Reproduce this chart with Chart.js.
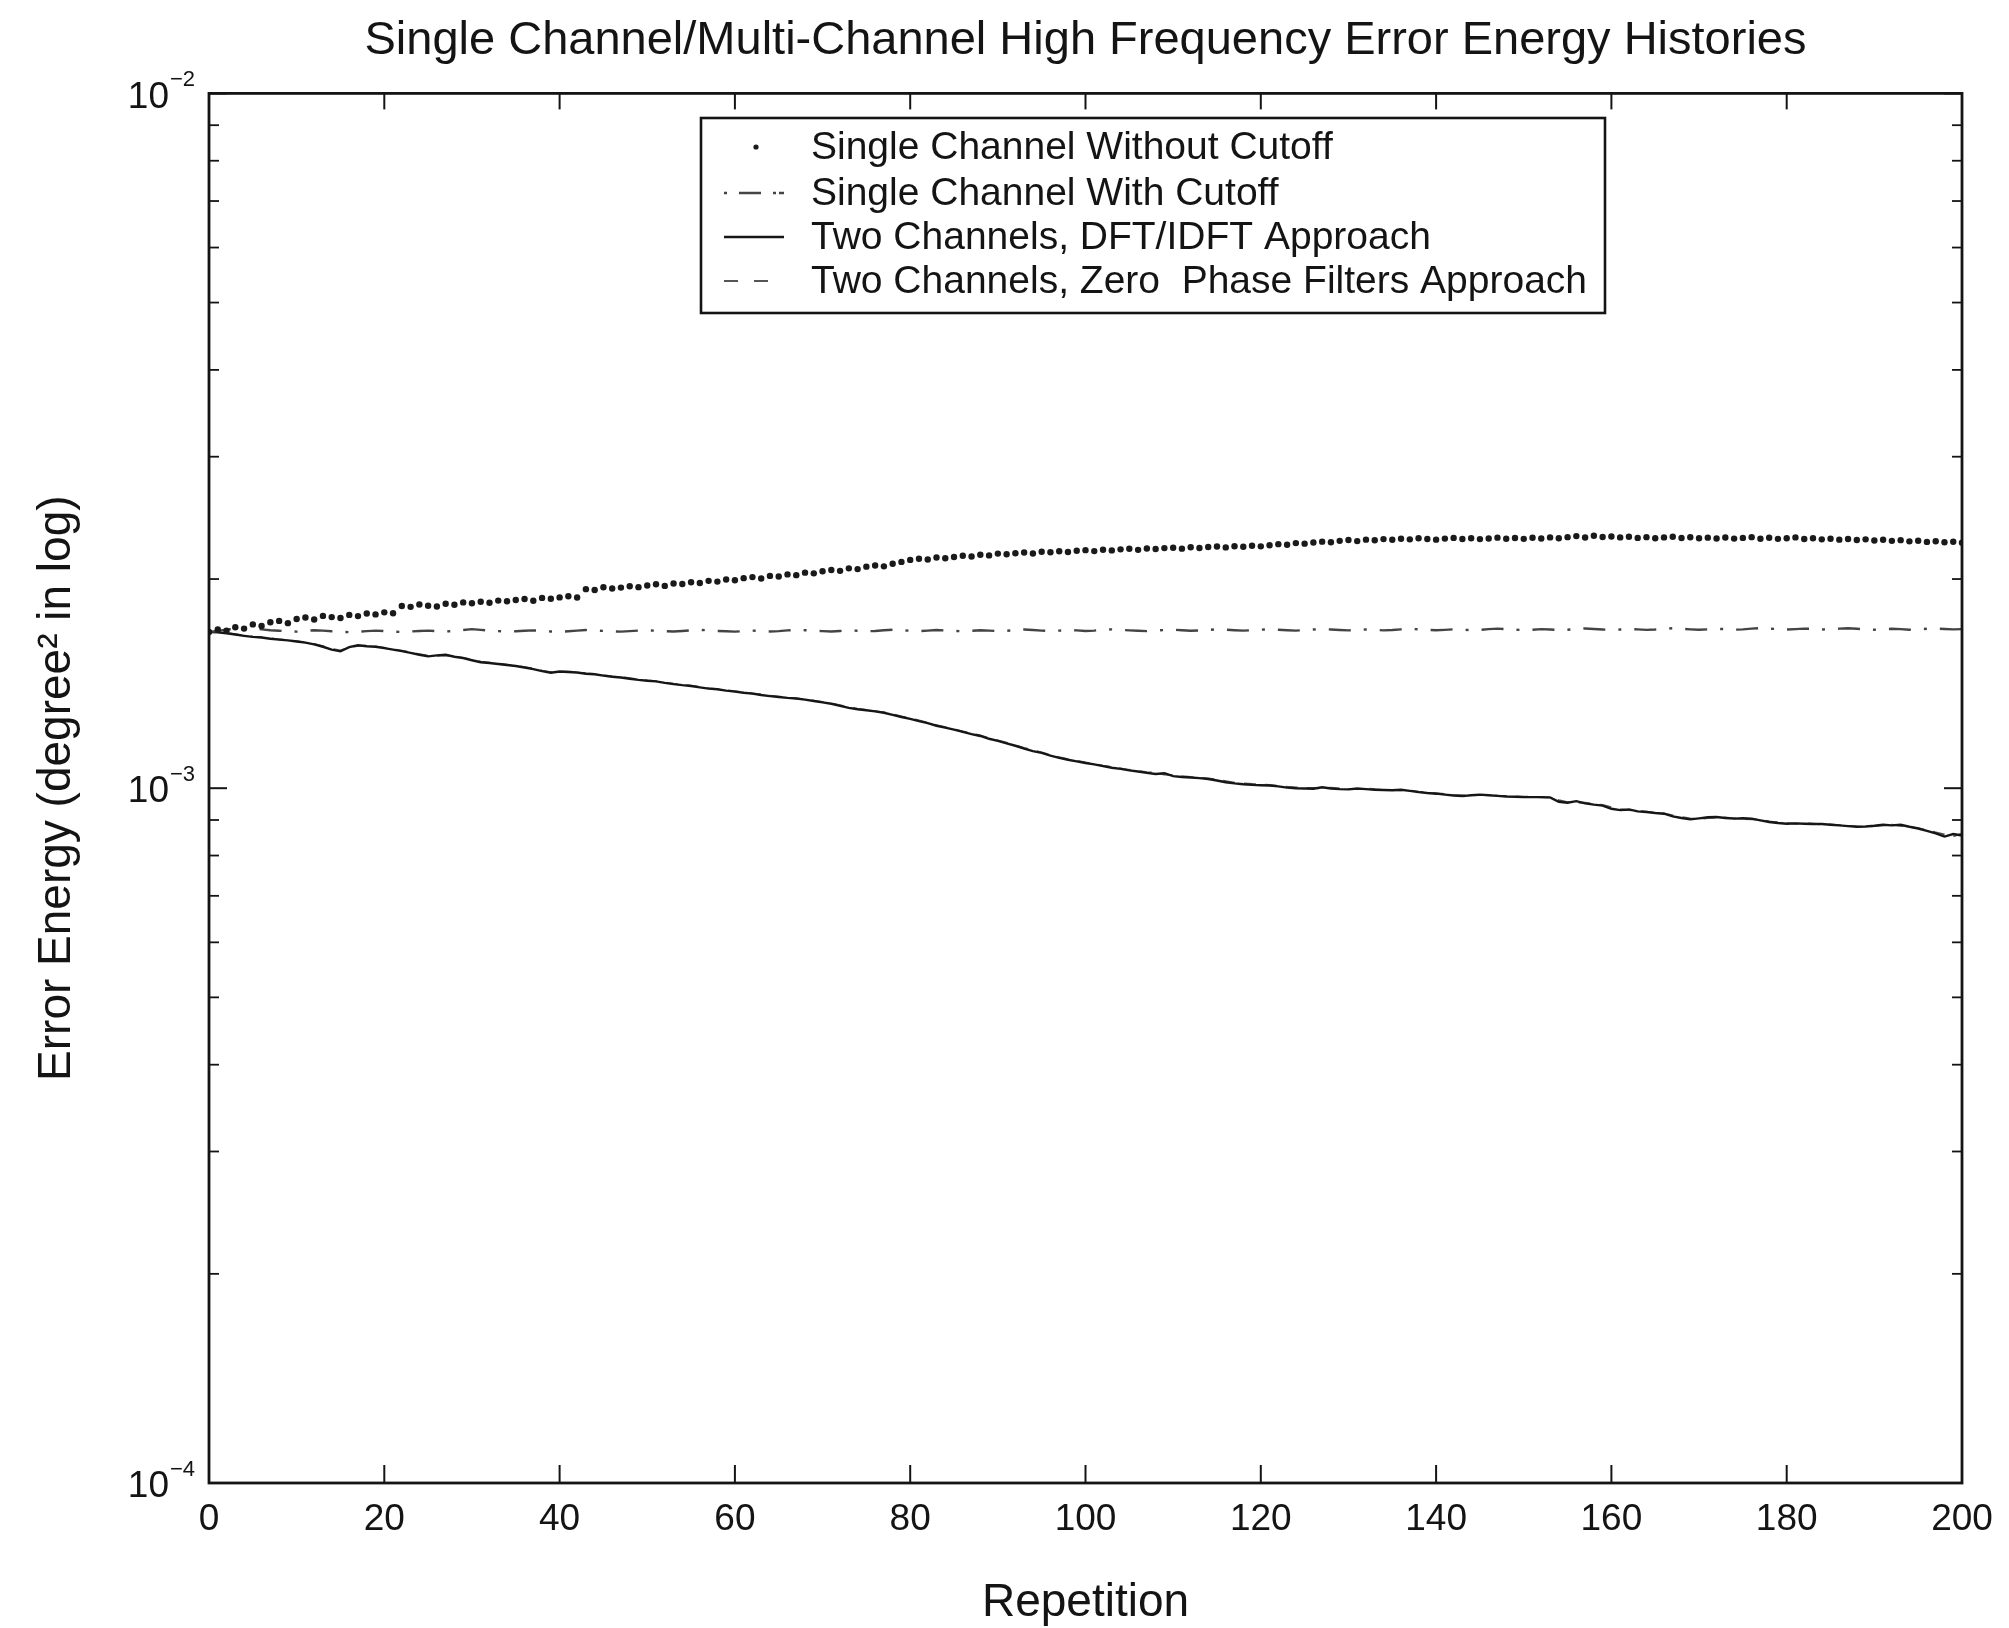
<!DOCTYPE html>
<html>
<head>
<meta charset="utf-8">
<title>Single Channel/Multi-Channel High Frequency Error Energy Histories</title>
<script src="https://cdn.jsdelivr.net/npm/chart.js"></script>
<style>
  html, body { margin: 0; padding: 0; background: #ffffff; }
  canvas { display: block; }
</style>
</head>
<body>
<canvas id="chart" width="2009" height="1628"></canvas>
<script>
// ---------------- DATA ----------------
const chartTitle = 'Single Channel/Multi-Channel High Frequency Error Energy Histories';
const xAxisTitle = 'Repetition';
const yAxisTitle = 'Error Energy (degree\u00B2 in log)';
const seriesNames = [
  'Single Channel Without Cutoff',
  'Single Channel With Cutoff',
  'Two Channels, DFT/IDFT Approach',
  'Two Channels, Zero  Phase Filters Approach'
];

const repetitions = [
  0,1,2,3,4,5,6,7,8,9,10,11,12,13,14,15,16,17,18,19,
  20,21,22,23,24,25,26,27,28,29,30,31,32,33,34,35,36,37,38,39,
  40,41,42,43,44,45,46,47,48,49,50,51,52,53,54,55,56,57,58,59,
  60,61,62,63,64,65,66,67,68,69,70,71,72,73,74,75,76,77,78,79,
  80,81,82,83,84,85,86,87,88,89,90,91,92,93,94,95,96,97,98,99,
  100,101,102,103,104,105,106,107,108,109,110,111,112,113,114,115,116,117,118,119,
  120,121,122,123,124,125,126,127,128,129,130,131,132,133,134,135,136,137,138,139,
  140,141,142,143,144,145,146,147,148,149,150,151,152,153,154,155,156,157,158,159,
  160,161,162,163,164,165,166,167,168,169,170,171,172,173,174,175,176,177,178,179,
  180,181,182,183,184,185,186,187,188,189,190,191,192,193,194,195,196,197,198,199,
  200
];

// Single Channel Without Cutoff (dots)
const singleWithoutCutoff = [
  1.678e-3,1.692e-3,1.686e-3,1.705e-3,1.697e-3,1.721e-3,1.712e-3,1.733e-3,1.741e-3,1.728e-3,
  1.752e-3,1.761e-3,1.749e-3,1.770e-3,1.763e-3,1.758e-3,1.776e-3,1.769e-3,1.784e-3,1.779e-3,
  1.791e-3,1.786e-3,1.829e-3,1.824e-3,1.838e-3,1.831e-3,1.826e-3,1.843e-3,1.837e-3,1.851e-3,
  1.846e-3,1.855e-3,1.849e-3,1.862e-3,1.858e-3,1.866e-3,1.872e-3,1.861e-3,1.879e-3,1.874e-3,
  1.882e-3,1.889e-3,1.881e-3,1.934e-3,1.929e-3,1.946e-3,1.938e-3,1.944e-3,1.953e-3,1.947e-3,
  1.958e-3,1.966e-3,1.955e-3,1.971e-3,1.967e-3,1.979e-3,1.974e-3,1.988e-3,1.983e-3,1.997e-3,
  1.992e-3,2.006e-3,2.013e-3,2.004e-3,2.021e-3,2.017e-3,2.031e-3,2.026e-3,2.043e-3,2.038e-3,
  2.052e-3,2.061e-3,2.055e-3,2.072e-3,2.067e-3,2.084e-3,2.092e-3,2.086e-3,2.104e-3,2.117e-3,
  2.131e-3,2.139e-3,2.134e-3,2.148e-3,2.143e-3,2.152e-3,2.161e-3,2.155e-3,2.168e-3,2.163e-3,
  2.176e-3,2.171e-3,2.179e-3,2.184e-3,2.177e-3,2.189e-3,2.186e-3,2.193e-3,2.188e-3,2.197e-3,
  2.201e-3,2.194e-3,2.204e-3,2.199e-3,2.207e-3,2.211e-3,2.203e-3,2.213e-3,2.209e-3,2.216e-3,
  2.219e-3,2.212e-3,2.222e-3,2.217e-3,2.224e-3,2.228e-3,2.221e-3,2.230e-3,2.226e-3,2.233e-3,
  2.229e-3,2.237e-3,2.245e-3,2.241e-3,2.253e-3,2.249e-3,2.258e-3,2.264e-3,2.259e-3,2.270e-3,
  2.276e-3,2.268e-3,2.279e-3,2.274e-3,2.283e-3,2.278e-3,2.286e-3,2.281e-3,2.289e-3,2.284e-3,
  2.279e-3,2.287e-3,2.292e-3,2.284e-3,2.290e-3,2.283e-3,2.288e-3,2.294e-3,2.286e-3,2.291e-3,
  2.285e-3,2.293e-3,2.288e-3,2.296e-3,2.290e-3,2.298e-3,2.306e-3,2.295e-3,2.309e-3,2.299e-3,
  2.303e-3,2.296e-3,2.301e-3,2.292e-3,2.298e-3,2.290e-3,2.296e-3,2.301e-3,2.291e-3,2.297e-3,
  2.289e-3,2.294e-3,2.288e-3,2.295e-3,2.287e-3,2.292e-3,2.298e-3,2.286e-3,2.293e-3,2.285e-3,
  2.290e-3,2.296e-3,2.284e-3,2.289e-3,2.281e-3,2.286e-3,2.279e-3,2.284e-3,2.276e-3,2.281e-3,
  2.273e-3,2.278e-3,2.270e-3,2.275e-3,2.266e-3,2.271e-3,2.262e-3,2.267e-3,2.259e-3,2.263e-3,
  2.256e-3
];

// Single Channel With Cutoff (dash-dot)
const singleWithCutoff = [
  1.678e-3,1.684e-3,1.691e-3,1.698e-3,1.703e-3,1.699e-3,1.693e-3,1.688e-3,1.685e-3,1.682e-3,
  1.680e-3,1.684e-3,1.688e-3,1.686e-3,1.682e-3,1.679e-3,1.677e-3,1.680e-3,1.683e-3,1.686e-3,
  1.683e-3,1.680e-3,1.678e-3,1.681e-3,1.684e-3,1.686e-3,1.683e-3,1.681e-3,1.684e-3,1.689e-3,
  1.694e-3,1.690e-3,1.686e-3,1.683e-3,1.680e-3,1.682e-3,1.685e-3,1.687e-3,1.684e-3,1.681e-3,
  1.679e-3,1.682e-3,1.686e-3,1.689e-3,1.687e-3,1.684e-3,1.682e-3,1.680e-3,1.683e-3,1.686e-3,
  1.688e-3,1.685e-3,1.683e-3,1.681e-3,1.684e-3,1.687e-3,1.690e-3,1.687e-3,1.684e-3,1.682e-3,
  1.680e-3,1.683e-3,1.686e-3,1.684e-3,1.681e-3,1.683e-3,1.687e-3,1.690e-3,1.688e-3,1.685e-3,
  1.683e-3,1.681e-3,1.684e-3,1.687e-3,1.685e-3,1.682e-3,1.684e-3,1.688e-3,1.691e-3,1.688e-3,
  1.685e-3,1.683e-3,1.686e-3,1.689e-3,1.687e-3,1.684e-3,1.682e-3,1.685e-3,1.688e-3,1.686e-3,
  1.683e-3,1.685e-3,1.689e-3,1.692e-3,1.689e-3,1.686e-3,1.684e-3,1.686e-3,1.689e-3,1.687e-3,
  1.684e-3,1.686e-3,1.690e-3,1.693e-3,1.690e-3,1.687e-3,1.685e-3,1.683e-3,1.686e-3,1.689e-3,
  1.691e-3,1.688e-3,1.685e-3,1.687e-3,1.690e-3,1.693e-3,1.691e-3,1.688e-3,1.686e-3,1.688e-3,
  1.691e-3,1.694e-3,1.691e-3,1.688e-3,1.686e-3,1.689e-3,1.692e-3,1.695e-3,1.692e-3,1.689e-3,
  1.687e-3,1.689e-3,1.692e-3,1.690e-3,1.687e-3,1.689e-3,1.693e-3,1.696e-3,1.693e-3,1.690e-3,
  1.688e-3,1.690e-3,1.693e-3,1.691e-3,1.688e-3,1.690e-3,1.694e-3,1.697e-3,1.694e-3,1.691e-3,
  1.689e-3,1.691e-3,1.694e-3,1.692e-3,1.689e-3,1.691e-3,1.695e-3,1.698e-3,1.695e-3,1.692e-3,
  1.690e-3,1.692e-3,1.695e-3,1.693e-3,1.690e-3,1.692e-3,1.696e-3,1.699e-3,1.696e-3,1.693e-3,
  1.691e-3,1.693e-3,1.696e-3,1.694e-3,1.691e-3,1.693e-3,1.697e-3,1.700e-3,1.697e-3,1.694e-3,
  1.692e-3,1.694e-3,1.697e-3,1.695e-3,1.692e-3,1.694e-3,1.697e-3,1.699e-3,1.696e-3,1.693e-3,
  1.691e-3,1.693e-3,1.696e-3,1.694e-3,1.691e-3,1.693e-3,1.696e-3,1.698e-3,1.695e-3,1.693e-3,
  1.694e-3
];

// Two Channels, DFT/IDFT Approach (solid)
const twoChannelsDft = [
  1.678e-3,1.676e-3,1.671e-3,1.664e-3,1.657e-3,1.651e-3,1.648e-3,1.641e-3,1.636e-3,1.632e-3,
  1.626e-3,1.620e-3,1.611e-3,1.598e-3,1.583e-3,1.574e-3,1.596e-3,1.606e-3,1.601e-3,1.598e-3,
  1.591e-3,1.583e-3,1.575e-3,1.566e-3,1.556e-3,1.548e-3,1.553e-3,1.556e-3,1.546e-3,1.539e-3,
  1.528e-3,1.518e-3,1.514e-3,1.509e-3,1.504e-3,1.499e-3,1.492e-3,1.484e-3,1.474e-3,1.466e-3,
  1.472e-3,1.470e-3,1.467e-3,1.461e-3,1.459e-3,1.452e-3,1.447e-3,1.443e-3,1.437e-3,1.432e-3,
  1.428e-3,1.425e-3,1.418e-3,1.412e-3,1.407e-3,1.403e-3,1.397e-3,1.391e-3,1.388e-3,1.382e-3,
  1.377e-3,1.372e-3,1.368e-3,1.362e-3,1.357e-3,1.353e-3,1.349e-3,1.346e-3,1.341e-3,1.335e-3,
  1.329e-3,1.323e-3,1.314e-3,1.305e-3,1.299e-3,1.295e-3,1.290e-3,1.284e-3,1.275e-3,1.266e-3,
  1.258e-3,1.249e-3,1.241e-3,1.230e-3,1.222e-3,1.214e-3,1.205e-3,1.196e-3,1.189e-3,1.178e-3,
  1.170e-3,1.160e-3,1.151e-3,1.140e-3,1.131e-3,1.124e-3,1.114e-3,1.106e-3,1.099e-3,1.093e-3,
  1.087e-3,1.082e-3,1.076e-3,1.070e-3,1.066e-3,1.061e-3,1.057e-3,1.052e-3,1.048e-3,1.051e-3,
  1.041e-3,1.038e-3,1.036e-3,1.034e-3,1.031e-3,1.026e-3,1.020e-3,1.016e-3,1.013e-3,1.011e-3,
  1.010e-3,1.009e-3,1.006e-3,1.002e-3,1.000e-3,0.999e-3,0.998e-3,1.003e-3,0.999e-3,0.997e-3,
  0.996e-3,0.999e-3,0.997e-3,0.995e-3,0.994e-3,0.993e-3,0.995e-3,0.991e-3,0.987e-3,0.984e-3,
  0.982e-3,0.979e-3,0.976e-3,0.974e-3,0.977e-3,0.979e-3,0.977e-3,0.975e-3,0.973e-3,0.972e-3,
  0.971e-3,0.971e-3,0.971e-3,0.970e-3,0.956e-3,0.953e-3,0.958e-3,0.951e-3,0.947e-3,0.944e-3,
  0.934e-3,0.930e-3,0.932e-3,0.926e-3,0.924e-3,0.921e-3,0.919e-3,0.911e-3,0.906e-3,0.902e-3,
  0.905e-3,0.908e-3,0.909e-3,0.906e-3,0.904e-3,0.905e-3,0.904e-3,0.899e-3,0.894e-3,0.891e-3,
  0.889e-3,0.890e-3,0.889e-3,0.888e-3,0.888e-3,0.886e-3,0.884e-3,0.882e-3,0.880e-3,0.881e-3,
  0.883e-3,0.886e-3,0.884e-3,0.886e-3,0.880e-3,0.875e-3,0.868e-3,0.861e-3,0.852e-3,0.859e-3,
  0.855e-3
];

// Two Channels, Zero Phase Filters Approach (dashed)
const twoChannelsZeroPhase = [
  1.678e-3,1.677e-3,1.673e-3,1.666e-3,1.659e-3,1.653e-3,1.649e-3,1.643e-3,1.638e-3,1.633e-3,
  1.628e-3,1.622e-3,1.613e-3,1.601e-3,1.587e-3,1.579e-3,1.594e-3,1.603e-3,1.604e-3,1.600e-3,
  1.593e-3,1.585e-3,1.578e-3,1.569e-3,1.559e-3,1.551e-3,1.551e-3,1.553e-3,1.548e-3,1.541e-3,
  1.531e-3,1.521e-3,1.516e-3,1.511e-3,1.506e-3,1.501e-3,1.494e-3,1.487e-3,1.477e-3,1.469e-3,
  1.471e-3,1.472e-3,1.469e-3,1.463e-3,1.460e-3,1.454e-3,1.449e-3,1.445e-3,1.440e-3,1.434e-3,
  1.430e-3,1.426e-3,1.420e-3,1.414e-3,1.409e-3,1.405e-3,1.399e-3,1.393e-3,1.389e-3,1.384e-3,
  1.379e-3,1.374e-3,1.369e-3,1.364e-3,1.359e-3,1.355e-3,1.350e-3,1.347e-3,1.342e-3,1.337e-3,
  1.331e-3,1.325e-3,1.317e-3,1.308e-3,1.301e-3,1.296e-3,1.291e-3,1.286e-3,1.278e-3,1.269e-3,
  1.260e-3,1.252e-3,1.243e-3,1.233e-3,1.224e-3,1.216e-3,1.207e-3,1.199e-3,1.191e-3,1.181e-3,
  1.172e-3,1.163e-3,1.153e-3,1.143e-3,1.134e-3,1.126e-3,1.117e-3,1.108e-3,1.101e-3,1.095e-3,
  1.089e-3,1.084e-3,1.078e-3,1.073e-3,1.068e-3,1.063e-3,1.059e-3,1.055e-3,1.053e-3,1.046e-3,
  1.044e-3,1.041e-3,1.038e-3,1.036e-3,1.033e-3,1.029e-3,1.024e-3,1.019e-3,1.016e-3,1.014e-3,
  1.012e-3,1.011e-3,1.008e-3,1.005e-3,1.003e-3,1.001e-3,1.001e-3,0.999e-3,1.002e-3,0.999e-3,
  0.998e-3,0.997e-3,0.999e-3,0.997e-3,0.995e-3,0.994e-3,0.993e-3,0.993e-3,0.989e-3,0.986e-3,
  0.984e-3,0.981e-3,0.978e-3,0.977e-3,0.976e-3,0.977e-3,0.979e-3,0.976e-3,0.974e-3,0.973e-3,
  0.972e-3,0.972e-3,0.970e-3,0.969e-3,0.961e-3,0.955e-3,0.954e-3,0.953e-3,0.949e-3,0.946e-3,
  0.939e-3,0.933e-3,0.930e-3,0.928e-3,0.925e-3,0.922e-3,0.920e-3,0.914e-3,0.909e-3,0.905e-3,
  0.903e-3,0.906e-3,0.907e-3,0.908e-3,0.905e-3,0.903e-3,0.902e-3,0.901e-3,0.896e-3,0.893e-3,
  0.891e-3,0.889e-3,0.890e-3,0.889e-3,0.887e-3,0.887e-3,0.885e-3,0.883e-3,0.881e-3,0.880e-3,
  0.882e-3,0.884e-3,0.886e-3,0.883e-3,0.879e-3,0.876e-3,0.870e-3,0.864e-3,0.858e-3,0.852e-3,
  0.861e-3
];

// Axis tick values
const xTickStep = 20;
const xMin = 0, xMax = 200;
const yMajorTicks = [1e-4, 1e-3, 1e-2];
const yMajorExponents = ['\u22124', '\u22123', '\u22122'];
const yMinorFactors = [2, 3, 4, 5, 6, 7, 8, 9];

// ---------------- STYLE ----------------
const FONT = "'Liberation Sans', Arial, Helvetica, sans-serif";
const INK = '#141414';

const matlabFrame = {
  id: 'matlabFrame',
  afterDatasetsDraw(chart) {
    const { ctx, chartArea: a, scales } = chart;
    const xs = scales.x, ys = scales.y;
    ctx.save();
    ctx.strokeStyle = INK;
    ctx.lineCap = 'butt';

    const seg = (x1, y1, x2, y2) => {
      ctx.beginPath(); ctx.moveTo(x1, y1); ctx.lineTo(x2, y2); ctx.stroke();
    };

    // x ticks (inside, bottom & top)
    ctx.lineWidth = 2;
    xs.ticks.forEach(t => {
      const px = xs.getPixelForValue(t.value);
      seg(px, a.bottom, px, a.bottom - 18);
      seg(px, a.top, px, a.top + 16);
    });

    // y ticks (inside, left & right), major + minor (log)
    yMajorTicks.forEach((d, i) => {
      const py = ys.getPixelForValue(d);
      ctx.lineWidth = 2;
      seg(a.left, py, a.left + 18, py);
      seg(a.right, py, a.right - 18, py);
      if (i < yMajorTicks.length - 1) {
        ctx.lineWidth = 1.8;
        yMinorFactors.forEach(f => {
          const pm = ys.getPixelForValue(d * f);
          seg(a.left, pm, a.left + 10, pm);
          seg(a.right, pm, a.right - 10, pm);
        });
      }
    });

    // box
    ctx.lineWidth = 2.8;
    ctx.strokeRect(a.left, a.top, a.right - a.left, a.bottom - a.top);

    // y tick labels 10^n
    ctx.fillStyle = INK;
    yMajorTicks.forEach((d, i) => {
      const py = ys.getPixelForValue(d);
      ctx.font = '37px ' + FONT;
      ctx.textAlign = 'right';
      ctx.textBaseline = 'middle';
      ctx.fillText('10', a.left - 40, py + 4);
      ctx.font = '22px ' + FONT;
      ctx.textAlign = 'left';
      ctx.fillText(yMajorExponents[i], a.left - 39, py - 13);
    });

    // legend box (inside plot)
    const L = { x0: 701, y0: 118, x1: 1605, y1: 313 };
    ctx.fillStyle = '#ffffff';
    ctx.fillRect(L.x0, L.y0, L.x1 - L.x0, L.y1 - L.y0);
    ctx.lineWidth = 2.6;
    ctx.strokeStyle = INK;
    ctx.strokeRect(L.x0, L.y0, L.x1 - L.x0, L.y1 - L.y0);
    const rowsY = [147, 193, 237, 281];
    chart.data.datasets.forEach((ds, i) => {
      const y = rowsY[i];
      ctx.save();
      if (ds.showLine === false) {
        ctx.fillStyle = ds.pointBackgroundColor;
        ctx.beginPath(); ctx.arc(756, y, 2.6, 0, Math.PI * 2); ctx.fill();
      } else {
        ctx.strokeStyle = ds.borderColor;
        ctx.lineWidth = ds.borderWidth;
        ctx.setLineDash(ds.legendDash || ds.borderDash || []);
        seg(724, y, 784, y);
      }
      ctx.restore();
      ctx.fillStyle = INK;
      ctx.font = '39px ' + FONT;
      ctx.textAlign = 'left';
      ctx.textBaseline = 'middle';
      ctx.fillText(ds.label, 811, y + 1);
    });
    ctx.restore();
  }
};

new Chart(document.getElementById('chart'), {
  type: 'line',
  data: {
    labels: repetitions,
    datasets: [
      {
        label: seriesNames[0], data: singleWithoutCutoff, showLine: false,
        pointRadius: 3.2, pointStyle: 'circle', pointBorderWidth: 0,
        pointBackgroundColor: '#1a1a1a', borderColor: '#1a1a1a'
      },
      {
        label: seriesNames[1], data: singleWithCutoff, borderColor: '#444444',
        borderWidth: 2.4, borderDash: [22, 13, 3, 13], legendDash: [3, 12, 22, 12, 3],
        pointRadius: 0, tension: 0, fill: false
      },
      {
        label: seriesNames[2], data: twoChannelsDft, borderColor: '#161616',
        borderWidth: 2.4, pointRadius: 0, tension: 0, fill: false
      },
      {
        label: seriesNames[3], data: twoChannelsZeroPhase, borderColor: '#555555',
        borderWidth: 1.8, borderDash: [12, 9], legendDash: [14, 16],
        pointRadius: 0, tension: 0, fill: false
      }
    ]
  },
  options: {
    responsive: false,
    animation: false,
    devicePixelRatio: 1,
    layout: { padding: { left: 0, right: 47, top: 0, bottom: 0 } },
    plugins: {
      legend: { display: false },
      tooltip: { enabled: false },
      title: {
        display: true, text: chartTitle, fullSize: false, color: INK,
        font: { family: FONT, size: 47, weight: 'normal', lineHeight: 1.2 },
        padding: { top: 13, bottom: 24 }
      }
    },
    scales: {
      x: {
        type: 'linear', min: xMin, max: xMax,
        ticks: {
          stepSize: xTickStep, color: INK, padding: 15, maxRotation: 0, autoSkip: false,
          font: { family: FONT, size: 37, lineHeight: 1.2 }
        },
        grid: { display: false, drawTicks: false },
        border: { display: false },
        title: {
          display: true, text: xAxisTitle, color: INK,
          font: { family: FONT, size: 46, lineHeight: 1.2 },
          padding: { top: 0, bottom: -3 }
        },
        afterFit: s => { s.height = 145; }
      },
      y: {
        type: 'logarithmic', min: yMajorTicks[0], max: yMajorTicks[yMajorTicks.length - 1],
        ticks: { display: false },
        grid: { display: false, drawTicks: false },
        border: { display: false },
        title: {
          display: true, text: yAxisTitle, color: INK,
          font: { family: FONT, size: 46, lineHeight: 1.2 },
          padding: { top: 30, bottom: 0 }
        },
        afterFit: s => { s.width = 209; }
      }
    }
  },
  plugins: [matlabFrame]
});
</script>
</body>
</html>
